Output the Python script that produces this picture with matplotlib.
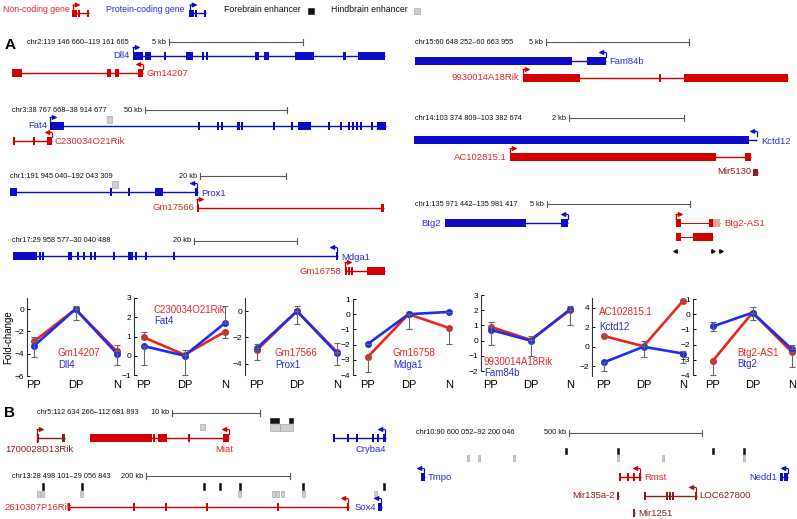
import matplotlib
matplotlib.use('Agg')
import matplotlib.pyplot as plt
from matplotlib.patches import Rectangle

plt.rcParams['font.family'] = ['Liberation Sans', 'DejaVu Sans']

# ---------------- data ----------------
conditions = ['PP', 'DP', 'N']
red_genes = ['Gm14207', 'C230034O21Rik', 'Gm17566', 'Gm16758', '9930014A18Rik', 'AC102815.1', 'Btg2-AS1']
blue_genes = ['Dll4', 'Fat4', 'Prox1', 'Mdga1', 'Fam84b', 'Kctd12', 'Btg2']
red_values = [[-2.9, 0.0, -3.8], [0.95, 0.05, 1.25], [-2.95, 0.0, -3.1], [-2.8, 0.0, -0.9],
              [0.9, 0.05, 2.0], [1.1, 0.05, 4.7], [-3.05, 0.1, -2.5]]
blue_values = [[-3.3, 0.0, -4.0], [0.5, 0.0, 1.7], [-2.8, 0.0, -3.2], [-1.95, 0.0, 0.15],
               [0.7, 0.0, 2.05], [-1.6, 0.0, -0.7], [-0.8, 0.1, -2.3]]
red_err_down = [[0, 0, 0], [0, 0, 0.35], [0.75, 0, 0], [1.0, 1.0, 1.05],
                [0, 0, 0], [0.15, 0, 0], [0.95, 0, 1.0]]
red_err_up = [[0, 0, 0], [0.3, 0, 0], [0, 0, 0.7], [0, 0, 0],
              [0, 0, 0], [0.15, 0, 0.15], [0, 0, 0]]
blue_err_down = [[1.0, 1.0, 1.0], [1.0, 1.0, 0], [0, 1.0, 0.9], [0, 0, 0],
                 [1.0, 1.0, 1.0], [0.9, 1.0, 1.0], [0.3, 0.5, 0]]
blue_err_up = [[0.8, 0.3, 0.8], [0, 0.3, 0.9], [0.3, 0.4, 0], [0, 0, 0],
               [0.5, 0.3, 0.2], [0, 0.6, 0.3], [0.3, 0.4, 0.3]]
chart_ylims = [(-6, 1), (-1, 3), (-4.85, 1), (-4, 1), (-2, 3), (-3, 5), (-4, 1)]
chart_yticks = [[0, -2, -4, -6], [3, 2, 1, 0, -1], [0, -2, -4], [1, 0, -1, -2, -3, -4],
                [3, 2, 1, 0, -1, -2], [4, 2, 0, -2], [1, 0, -1, -2, -3, -4]]

# gene models (exon start/end along each track)
DLL4_EXONS = [(133, 143), (145, 151), (164, 166), (186, 193), (202, 203.5), (206, 208), (255, 259),
              (264, 269), (295, 314), (343, 346), (358, 385)]
GM14207_EXONS = [(12, 22), (107, 111), (115, 119), (138, 143)]
FAT4_EXONS = [(50, 64), (198, 200), (217, 218.5), (221, 222.5), (237, 240), (241, 243), (273, 274.5),
              (291, 293), (298, 311), (328, 330), (340, 342), (348, 350), (352, 354), (356, 358),
              (360, 362), (371, 372.5), (377, 386)]
C230034O21RIK_EXONS = [(13, 15), (33, 35), (47, 52)]
PROX1_EXONS = [(10, 17), (110, 111.5), (128, 130), (155, 163), (195, 198)]
GM17566_EXONS = [(197, 199), (381, 384)]
MDGA1_EXONS = [(13, 37), (39, 40.5), (42, 43.5), (68, 69.5), (70, 72), (77, 79), (83, 84.5), (90, 92),
               (94, 96), (113, 115), (128, 133), (135, 137), (145, 147), (173, 175), (336, 338)]
GM16758_EXONS = [(345, 347), (348, 350), (351, 353), (367, 385)]
FAM84B_EXONS = [(415, 572), (587, 606)]
RIK9930014A18_EXONS = [(523, 580), (659, 661), (684, 788)]
KCTD12_EXONS = [(414, 749)]
AC102815_EXONS = [(510, 716), (745, 751)]
MIR5130_EXONS = [(753, 758)]
BTG2_EXONS = [(445, 526), (561, 568)]
BTG2AS1_T1_EXONS = [(676, 681), (709, 713)]
BTG2AS1_T1_UTR = [(713, 720)]
BTG2AS1_T2_EXONS = [(676, 681), (693, 713)]
RIK1700028D13_EXONS = [(37, 38.5), (62, 65)]
MIAT_EXONS = [(90, 152), (153, 155), (158, 167), (188, 190), (223, 229)]
CRYBA4_EXONS = [(333, 335), (347, 349), (356, 358), (372, 373.5), (377, 379), (383, 386)]
RIK2610307P16_EXONS = [(68, 70), (133, 135), (165, 166.5), (206, 208), (277, 278.5), (347, 349)]
SOX4_EXONS = [(378, 382)]
TMPO_EXONS = [(421, 425)]
NEDD1_EXONS = [(780, 783), (784, 788)]
RMST_EXONS = [(619, 620.5), (627, 628.5), (633, 634.5), (639, 641)]
MIR135A2_EXONS = [(617, 619)]
LOC627800_EXONS = [(644, 645.5), (666, 667.5), (669, 670.5), (672, 673.5), (695, 697)]
MIR1251_EXONS = [(633, 635)]

SOX_BLACK_ENH = [43, 82, 204, 220, 240, 303, 384]
SOX_GRAY_ENH = [39, 43, 82, 240, 274, 278, 283, 304, 376]
RMST_BLACK_ENH = [566, 618, 713, 744]
RMST_GRAY_ENH = [468, 479, 514, 618, 663, 744]

# ---------------- style ----------------
W, H = 797, 519
BLUE = '#0c0cc8'
BLUE_T = '#2b2bd8'
RED = '#d40000'
RED_T = '#e3262b'
DRED = '#8e1c1c'
LRED = '#f0a0a0'
CRED = '#e8261f'
CBLUE = '#1f2ee8'
GREY = '#5a5a5a'
FS_HDR = 5.3
FS_GENE = 6.8
FS_LEG = 6.3

fig = plt.figure(figsize=(W / 100, H / 100), dpi=100)
ax = fig.add_axes([0, 0, 1, 1])
ax.set_xlim(0, W)
ax.set_ylim(H, 0)
ax.axis('off')


def gene(y, exons, color, tss=None, direction=1, span=None, h=8, lw=1.0):
    xs = [e[0] for e in exons] + [e[1] for e in exons]
    x0, x1 = (min(xs), max(xs)) if span is None else span
    if x1 - x0 > 0:
        ax.plot([x0, x1], [y, y], color=color, lw=lw, solid_capstyle='butt', zorder=2)
    for a, b in exons:
        ax.add_patch(Rectangle((a, y - h / 2), max(b - a, 1.6), h, facecolor=color,
                               edgecolor='none', zorder=3))
    if tss is not None:
        top = y - h / 2 - 4.5
        ax.plot([tss, tss], [y - h / 2, top], color=color, lw=0.9, zorder=3)
        ax.annotate('', xy=(tss + direction * 7.5, top), xytext=(tss, top),
                    arrowprops=dict(arrowstyle='-|>,head_length=0.45,head_width=0.22',
                                    mutation_scale=6, lw=0.9, color=color,
                                    shrinkA=0, shrinkB=0), zorder=3)


def label(x, y, s, color, ha='left', fs=FS_GENE):
    ax.text(x, y, s, color=color, fontsize=fs, ha=ha, va='center')


def header(x, y, s, kb, bx0, bx1):
    ax.text(x, y, s, fontsize=FS_HDR, ha='left', va='center', color='#111111')
    ax.text(bx0 - 3, y, kb, fontsize=FS_HDR, ha='right', va='center', color='#111111')
    ax.plot([bx0, bx1], [y, y], color=GREY, lw=0.8)
    ax.plot([bx0, bx0], [y - 3, y + 3], color=GREY, lw=0.8)
    ax.plot([bx1, bx1], [y - 3, y + 3], color=GREY, lw=0.8)


def enh(x0, x1, y0, y1, black):
    ax.add_patch(Rectangle((x0, y0), x1 - x0, y1 - y0,
                           facecolor='#111111' if black else '#cfcfcf',
                           edgecolor='#111111' if black else '#9a9a9a', lw=0.4, zorder=3))


# ---------------- legend ----------------
ax.text(3, 10, 'Non-coding gene', color=RED_T, fontsize=FS_LEG, va='center')
gene(13, [(72, 77), (78, 79.5), (87, 89)], RED, tss=73, direction=1, h=7)
ax.text(106, 10, 'Protein-coding gene', color=BLUE_T, fontsize=FS_LEG, va='center')
gene(13, [(189, 194), (195, 196.5), (204, 206)], BLUE, tss=190, direction=1, h=7)
ax.text(224, 10, 'Forebrain enhancer', color='#111111', fontsize=FS_LEG, va='center')
enh(308, 314, 8, 14, True)
ax.text(331, 10, 'Hindbrain enhancer', color='#111111', fontsize=FS_LEG, va='center')
enh(414, 420, 8, 14, False)

# ---------------- panel A, left ----------------
ax.text(5, 45, 'A', fontsize=11, fontweight='bold', va='center')

header(27, 42, 'chr2:119 146 660\u2013119 161 665', '5 kb', 169, 303)
gene(56, DLL4_EXONS, BLUE, tss=133, direction=1)
label(130, 56, 'Dll4', BLUE_T, ha='right')
gene(73, GM14207_EXONS, RED, tss=143, direction=-1)
label(147, 73, 'Gm14207', RED_T)

header(12, 110, 'chr3:38 767 668\u201338 914 677', '50 kb', 145, 287)
enh(107, 112, 116, 123, False)
gene(126, FAT4_EXONS, BLUE, tss=50, direction=1)
label(47, 126, 'Fat4', BLUE_T, ha='right')
gene(141, C230034O21RIK_EXONS, RED, tss=52, direction=-1)
label(55, 141, 'C230034O21Rik', RED_T)

header(10, 176, 'chr1:191 945 040\u2013192 043 309', '20 kb', 200, 286)
enh(112, 118, 181, 188, False)
gene(192, PROX1_EXONS, BLUE, tss=197, direction=-1)
label(201, 193, 'Prox1', BLUE_T)
gene(208, GM17566_EXONS, RED, tss=197, direction=1)
label(194, 208, 'Gm17566', RED_T, ha='right')

header(12, 241, 'chr17:29 958 577\u201330 040 488', '20 kb', 194, 297)
gene(256, MDGA1_EXONS, BLUE, tss=337, direction=-1)
label(341, 257, 'Mdga1', BLUE_T)
gene(271, GM16758_EXONS, RED, tss=345, direction=1)
label(341, 272, 'Gm16758', RED_T, ha='right')

# ---------------- panel A, right ----------------
header(415, 42, 'chr15:60 648 252\u201360 663 955', '5 kb', 546, 689)
gene(61, FAM84B_EXONS, BLUE, tss=606, direction=-1)
label(609, 61, 'Fam84b', BLUE_T)
gene(78, RIK9930014A18_EXONS, RED, tss=523, direction=1)
label(519, 78, '9930014A18Rik', RED_T, ha='right')

header(415, 118, 'chr14:103 374 809\u2013103 382 674', '2 kb', 569, 684)
gene(140, KCTD12_EXONS, BLUE, tss=757, direction=-1, span=(414, 757))
label(761, 141, 'Kctd12', BLUE_T)
gene(157, AC102815_EXONS, RED, tss=510, direction=1)
label(507, 157, 'AC102815.1', RED_T, ha='right')
gene(172, MIR5130_EXONS, DRED, h=7)
label(751, 172, 'Mir5130', DRED, ha='right')

header(415, 204, 'chr1:135 971 442\u2013135 981 417', '5 kb', 547, 690)
gene(223, BTG2_EXONS, BLUE, tss=568, direction=-1)
label(441, 223, 'Btg2', BLUE_T, ha='right')
gene(223, BTG2AS1_T1_EXONS + BTG2AS1_T1_UTR, RED, tss=676, direction=1, lw=0.7)
for a, b in BTG2AS1_T1_UTR:
    ax.add_patch(Rectangle((a, 219), b - a, 8, facecolor=LRED, edgecolor='none', zorder=4))
label(724, 223, 'Btg2-AS1', RED_T)
gene(237, BTG2AS1_T2_EXONS, RED, lw=0.7)
ax.plot([675], [251], marker='<', ms=2.5, color='#111111', ls='none')
ax.plot([713, 721], [251, 251], marker='>', ms=2.5, color='#111111', ls='none')

# ---------------- line charts ----------------
chart_geom = [(27, 34, 117, 298, 376), (134, 144, 225, 298, 375), (245, 257, 337, 298, 375),
              (353, 368, 449, 299, 375), (481, 491, 570, 295, 371), (592, 604, 683, 298, 376),
              (693, 713, 792, 299, 375)]
label_pos = [(58, 353, 365), (154, 310, 320.5), (275, 353, 365), (393, 353, 365),
             (484, 362, 373), (599, 312, 327), (737, 353, 364)]
XLABEL_Y = 385

for i in range(7):
    left, pp, n, top, bot = chart_geom[i]
    right = n + 5
    u = (n - pp) / 2
    a = fig.add_axes([left / W, 1 - bot / H, (right - left) / W, (bot - top) / H])
    a.patch.set_alpha(0)
    a.set_xlim((left - pp) / u, (right - pp) / u)
    a.set_ylim(*chart_ylims[i])
    for s in ['top', 'right', 'bottom']:
        a.spines[s].set_visible(False)
    a.spines['left'].set_linewidth(0.8)
    a.spines['left'].set_color('#333333')
    a.set_yticks(chart_yticks[i])
    a.set_xticks([])
    a.tick_params(axis='y', direction='in', length=2.5, width=0.7, labelsize=6, pad=2)
    x = [0, 1, 2]
    a.plot(x, red_values[i], color=CRED, lw=1.9, marker='o', ms=4, zorder=3, clip_on=False)
    a.plot(x, blue_values[i], color=CBLUE, lw=1.9, marker='o', ms=4, zorder=4, clip_on=False)
    a.errorbar(x, red_values[i], yerr=[red_err_down[i], red_err_up[i]], fmt='none',
               ecolor='#666666', elinewidth=0.8, capsize=2, capthick=0.8, zorder=5, clip_on=False)
    a.errorbar(x, blue_values[i], yerr=[blue_err_down[i], blue_err_up[i]], fmt='none',
               ecolor='#666666', elinewidth=0.8, capsize=2, capthick=0.8, zorder=5, clip_on=False)
    for k, c in enumerate(conditions):
        ax.text(pp + k * u, XLABEL_Y, c, fontsize=8, ha='center', va='center')
    lx, ry, by = label_pos[i]
    label(lx, ry, red_genes[i], RED_T, fs=7)
    label(lx, by, blue_genes[i], BLUE_T, fs=7)

ax.text(8, 337, 'Fold-change', rotation=90, fontsize=7, ha='center', va='center')

# ---------------- panel B ----------------
ax.text(4, 413, 'B', fontsize=11, fontweight='bold', va='center')

header(37, 413, 'chr5:112 634 266\u2013112 681 893', '10 kb', 172, 260)
enh(270, 279, 418, 423, True)
enh(289, 293, 418, 423, True)
enh(200, 205, 424, 430, False)
enh(270, 280, 424, 431, False)
enh(280, 293, 424, 431, False)
gene(438, RIK1700028D13_EXONS, DRED, tss=37, direction=1)
ax.plot([37, 37], [434, 442], color=DRED, lw=1)
label(5, 449, '1700028D13Rik', DRED)
gene(438, MIAT_EXONS, RED, tss=229, direction=-1)
label(215, 449, 'Miat', RED_T)
gene(438, CRYBA4_EXONS, BLUE, tss=385, direction=-1)
label(386, 449, 'Cryba4', BLUE_T, ha='right')

header(12, 476, 'chr13:28 498 101\u201329 056 843', '200 kb', 146, 290)
for xe in SOX_BLACK_ENH:
    enh(xe - 1, xe + 1, 483, 490, True)
for xe in SOX_GRAY_ENH:
    enh(xe - 1.5, xe + 1.5, 490.5, 497, False)
gene(507, RIK2610307P16_EXONS, RED, tss=348, direction=-1)
label(4, 507, '2610307P16Rik', RED_T)
gene(507, SOX4_EXONS, BLUE, tss=381, direction=-1)
label(376, 507, 'Sox4', BLUE_T, ha='right')

header(416, 433, 'chr10:90 600 052\u201392 200 046', '500 kb', 569, 702)
for xe in RMST_BLACK_ENH:
    enh(xe - 0.8, xe + 0.8, 448, 454, True)
for xe in RMST_GRAY_ENH:
    enh(xe - 1.2, xe + 1.2, 455, 461, False)
gene(477, TMPO_EXONS, BLUE, tss=424, direction=-1)
label(428, 477, 'Tmpo', BLUE_T)
gene(477, NEDD1_EXONS, BLUE, tss=788, direction=-1)
label(777, 477, 'Nedd1', BLUE_T, ha='right')
gene(477, RMST_EXONS, RED, tss=640, direction=-1)
label(644, 477, 'Rmst', RED_T)
gene(496, MIR135A2_EXONS, DRED)
label(615, 496, 'Mir135a-2', DRED, ha='right')
gene(496, LOC627800_EXONS, DRED, tss=696, direction=-1)
label(699, 496, 'LOC627800', DRED)
gene(513, MIR1251_EXONS, DRED)
label(638, 513, 'Mir1251', DRED)

fig.savefig('out.png', dpi=100)
